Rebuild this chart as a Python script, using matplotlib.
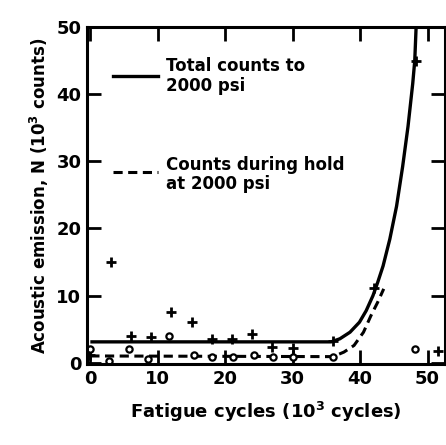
import matplotlib
matplotlib.use("Agg")
import matplotlib.pyplot as plt

# total counts to 2000 psi (+ markers)
tot_x = [0, 3, 6, 9, 12, 15, 18, 21, 24, 27, 30, 36, 42, 48.3, 51.5]
tot_y = [1.2, 15, 4, 3.8, 7.5, 6, 3.5, 3.5, 4.3, 2.3, 2.2, 3.3, 11.2, 45, 1.8]

# counts during hold (o markers)
hold_x = [0, 2.7, 5.7, 8.6, 11.7, 15.3, 18.1, 21.1, 24.2, 27.1, 30.1, 36, 48.1]
hold_y = [2.1, 0.2, 2.1, 0.6, 4.0, 1.2, 0.8, 0.8, 1.2, 0.8, 0.8, 0.8, 2.1]

# curves
solid_x = [0, 35.7, 37.0, 38.5, 39.9, 40.9, 41.9, 42.6, 43.4, 44.4, 45.4, 46.3, 47.1, 47.8, 48.1, 48.3]
solid_y = [3.1, 3.1, 3.56, 4.54, 6.03, 7.75, 9.98, 11.95, 14.4, 18.4, 23.3, 29.2, 35.2, 41.6, 45, 50]
dash_x = [0, 36, 37.6, 39.1, 40.5, 41.6, 42.6, 43.5]
dash_y = [1.0, 0.9, 1.58, 2.57, 4.54, 7.0, 9.0, 11.0]

plt.rcParams['font.family'] = 'DejaVu Sans'
plt.rcParams['font.weight'] = 'bold'

fig = plt.figure(figsize=(4.46, 4.45), dpi=100)
ax = fig.add_axes([0.195, 0.182, 0.803, 0.757])

ax.plot(solid_x, solid_y, color='black', lw=2.4, solid_capstyle='butt')
ax.plot(dash_x, dash_y, color='black', lw=2.2, dashes=(3, 1.8))
ax.plot(tot_x, tot_y, '+', color='black', ms=7, mew=2)
ax.plot(hold_x, hold_y, 'o', mfc='white', mec='black', ms=4.5, mew=1.6)

ax.set_xlim(-0.5, 52.6)
ax.set_ylim(-0.2, 50)
ax.set_xticks([0, 10, 20, 30, 40, 50])
ax.set_yticks([0, 10, 20, 30, 40, 50])
ax.tick_params(direction='in', length=10, width=2, labelsize=13,
               top=True, right=True, pad=4)
for s in ax.spines.values():
    s.set_linewidth(2.2)

ax.set_xlabel('Fatigue cycles (10$^{\\mathbf{3}}$ cycles)', fontsize=13,
              fontweight='bold', labelpad=9)
ax.set_ylabel('Acoustic emission, N (10$^{\\mathbf{3}}$ counts)', fontsize=12,
              fontweight='bold', labelpad=4)

# legend drawn by hand as in the original
ax.plot([3.3, 10], [42.7, 42.7], color='black', lw=2.4)
ax.text(11.2, 42.7, 'Total counts to\n2000 psi', fontsize=12, fontweight='bold',
        va='center', ha='left', linespacing=1.1)
ax.plot([3.3, 10], [28.4, 28.4], color='black', lw=2.2, dashes=(3, 1.8))
ax.text(11.2, 28.0, 'Counts during hold\nat 2000 psi', fontsize=12,
        fontweight='bold', va='center', ha='left', linespacing=1.1)

fig.savefig('out.png', dpi=100)
